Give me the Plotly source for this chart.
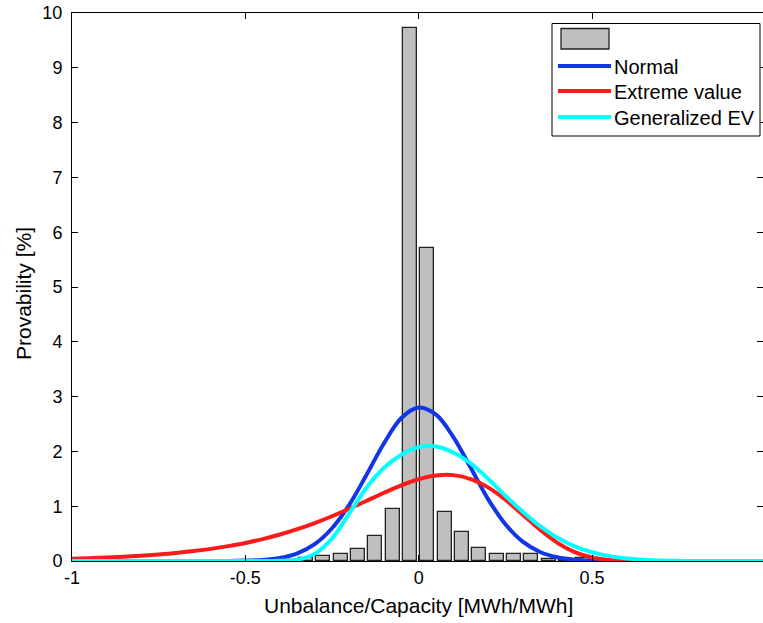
import plotly.graph_objects as go

# ---------------- data ----------------
bin_centers = [-0.375, -0.325, -0.275, -0.225, -0.175, -0.125, -0.075, -0.025,
               0.025, 0.075, 0.125, 0.175, 0.225, 0.275, 0.325, 0.375, 0.425, 0.475]
hist_values = [0.02, 0.06, 0.10, 0.13, 0.21, 0.45, 0.94, 9.73,
               5.71, 0.89, 0.53, 0.24, 0.13, 0.13, 0.13, 0.04, 0.02, 0.06]

curve_x = [-1.0, -0.95, -0.9, -0.85, -0.8, -0.75, -0.7, -0.65, -0.6, -0.55,
           -0.5, -0.45, -0.4, -0.35, -0.3, -0.25, -0.2, -0.15, -0.1, -0.05,
           0.0, 0.05, 0.1, 0.15, 0.2, 0.25, 0.3, 0.35, 0.4, 0.45,
           0.5, 0.55, 0.6, 0.65, 0.7, 0.75, 0.8, 0.85, 0.9, 0.95, 1.0]

normal_y = [0, 0, 0, 0, 0, 0, 0, 0, 0, 0,
            0.007, 0.02, 0.057, 0.14, 0.307, 0.597, 1.03, 1.58, 2.15, 2.61,
            2.80, 2.67, 2.26, 1.70, 1.13, 0.672, 0.353, 0.165, 0.069, 0.025,
            0.008, 0.002, 0, 0, 0, 0, 0, 0, 0, 0, 0]

extreme_y = [0.042, 0.052, 0.064, 0.079, 0.097, 0.120, 0.147, 0.181, 0.221, 0.271,
             0.329, 0.400, 0.483, 0.580, 0.692, 0.817, 0.954, 1.100, 1.246, 1.381,
             1.492, 1.560, 1.567, 1.496, 1.343, 1.118, 0.846, 0.569, 0.331, 0.161,
             0.063, 0.018, 0.004, 0.001, 0, 0, 0, 0, 0, 0, 0]

gev_y = [0, 0, 0, 0, 0, 0, 0, 0, 0, 0,
         0, 0, 0.003, 0.025, 0.13, 0.41, 0.87, 1.34, 1.70, 1.94,
         2.08, 2.09, 1.98, 1.78, 1.50, 1.19, 0.90, 0.635, 0.425, 0.268,
         0.159, 0.089, 0.047, 0.024, 0.011, 0.004, 0.001, 0, 0, 0, 0]

x_tickvals = [-1, -0.5, 0, 0.5, 1]
x_ticktext = ["-1", "-0.5", "0", "0.5", "1"]
y_tickvals = [0, 1, 2, 3, 4, 5, 6, 7, 8, 9, 10]
y_ticktext = ["0", "1", "2", "3", "4", "5", "6", "7", "8", "9", "10"]

series_names = ["Normal", "Extreme value", "Generalized EV"]
series_colors = ["#1236e6", "#ff1a1a", "#00ffff"]
x_title = "Unbalance/Capacity [MWh/MWh]"
y_title = "Provability [%]"

# ---------------- figure ----------------
W, H = 763, 623
ML, MR, MT, MB = 72, 0, 13, 62
FONT = "Liberation Sans, Arial, Helvetica, sans-serif"

fig = go.Figure()
fig.add_trace(go.Bar(x=bin_centers, y=hist_values, width=0.04,
                     marker=dict(color="#bfbfbf", line=dict(color="#222222", width=1.3)),
                     showlegend=False, name=""))
for yy, nm, col in zip([normal_y, extreme_y, gev_y], series_names, series_colors):
    fig.add_trace(go.Scatter(x=curve_x, y=yy, mode="lines", name=nm,
                             line=dict(color=col, width=4, shape="spline"),
                             showlegend=False))

# pixel -> paper helpers for the MATLAB-style legend and titles
pw, ph = W - ML - MR, H - MT - MB
def px(xp):
    return (xp - ML) / pw
def py(yp):
    return (H - MB - yp) / ph

shapes = [
    dict(type="rect", xref="paper", yref="paper", x0=px(552), x1=px(760), y0=py(136), y1=py(23.5),
         line=dict(color="black", width=1), fillcolor="white", layer="above"),
    dict(type="rect", xref="paper", yref="paper", x0=px(561), x1=px(609), y0=py(49), y1=py(28.5),
         line=dict(color="#222222", width=1.3), fillcolor="#bfbfbf", layer="above"),
]
annotations = []
for i, (nm, col) in enumerate(zip(series_names, series_colors)):
    yl = [66, 91, 117][i]
    shapes.append(dict(type="line", xref="paper", yref="paper", x0=px(558), x1=px(611),
                       y0=py(yl), y1=py(yl), line=dict(color=col, width=4), layer="above"))
    annotations.append(dict(xref="paper", yref="paper", x=px(612), y=py(yl + 1), text=nm,
                            showarrow=False, xanchor="left", yanchor="middle",
                            font=dict(family=FONT, size=20, color="black")))

annotations.append(dict(xref="paper", yref="paper", x=px(418), y=py(605), text=x_title,
                        showarrow=False, xanchor="center", yanchor="middle",
                        font=dict(family=FONT, size=21, color="black")))
annotations.append(dict(xref="paper", yref="paper", x=px(23), y=py(294), text=y_title,
                        showarrow=False, xanchor="center", yanchor="middle", textangle=-90,
                        font=dict(family=FONT, size=21, color="black")))

fig.update_layout(
    width=W, height=H,
    margin=dict(l=ML, r=MR, t=MT, b=MB, pad=0, autoexpand=False),
    paper_bgcolor="white", plot_bgcolor="white",
    font=dict(family=FONT, size=18, color="black"),
    bargap=0, showlegend=False,
    shapes=shapes, annotations=annotations,
    xaxis=dict(range=[-1, 0.993], tickvals=x_tickvals, ticktext=x_ticktext,
               ticks="inside", ticklen=6, tickcolor="black", tickwidth=1,
               showline=True, linecolor="black", linewidth=1, mirror="ticks",
               showgrid=False, zeroline=False, automargin=False,
               tickfont=dict(family=FONT, size=18, color="black")),
    yaxis=dict(range=[0, 10], tickvals=y_tickvals, ticktext=y_ticktext,
               ticks="inside", ticklen=6, tickcolor="black", tickwidth=1,
               showline=True, linecolor="black", linewidth=1, mirror="ticks",
               showgrid=False, zeroline=False, automargin=False, ticklabelstandoff=5,
               tickfont=dict(family=FONT, size=18, color="black")),
)

fig.write_html("out.html", config={"displayModeBar": False},
               post_script="document.body.style.margin='0';document.body.style.overflow='hidden';")
